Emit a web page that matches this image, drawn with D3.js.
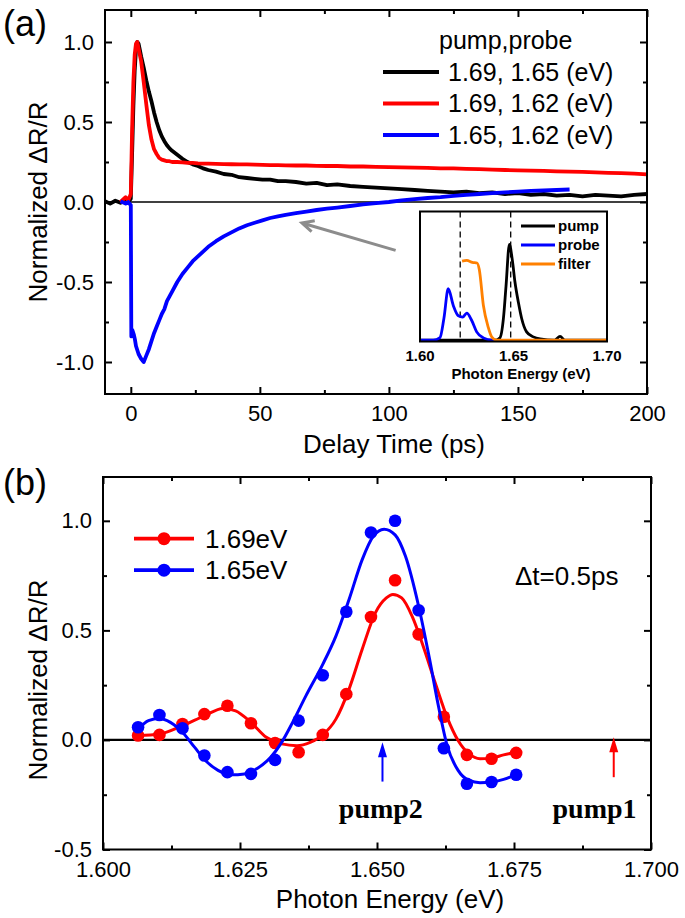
<!DOCTYPE html>
<html lang="en">
<head>
<meta charset="UTF-8">
<title>Normalized dR/R</title>
<script src="https://cdn.jsdelivr.net/npm/d3@7"></script>
<style>
    body { margin: 0; background: #ffffff; }
    svg { font-family: "Liberation Sans", Arial, sans-serif; }
    .frame { fill: none; stroke: #000; stroke-width: 2; }
    .tick line { stroke: #000; stroke-width: 2; }
</style>
</head>
<body>
<div id="main"></div>
<script>
// ---- panel (a): transient reflectivity vs delay ----
const delayTime = [-10, -8, -6, -4, -2, -1, 0, 0.5, 1, 1.5, 2, 2.5, 3, 3.5, 4, 5, 6, 7, 8, 9, 10, 11, 12, 13, 14, 15, 16, 18, 20, 22, 24, 26, 28, 30, 33, 36, 39, 42, 45, 48, 51, 54, 57, 60, 64, 68, 72, 76, 80, 85, 90, 95, 100, 105, 110, 115, 120, 125, 130, 135, 140, 145, 150, 155, 160, 165, 170, 175, 180, 185, 190, 195, 200];
const pump169probe165 = [0.005, -0.01, 0.008, -0.005, 0.01, 0.0, 0.02, 0.3, 0.6, 0.82, 0.95, 1.0, 0.99, 0.95, 0.91, 0.84, 0.76, 0.69, 0.63, 0.56, 0.5, 0.45, 0.41, 0.38, 0.355, 0.335, 0.32, 0.295, 0.27, 0.25, 0.235, 0.225, 0.21, 0.2, 0.19, 0.175, 0.17, 0.155, 0.15, 0.145, 0.14, 0.14, 0.13, 0.13, 0.125, 0.115, 0.12, 0.105, 0.11, 0.1, 0.095, 0.09, 0.085, 0.08, 0.075, 0.07, 0.065, 0.06, 0.065, 0.055, 0.06, 0.05, 0.055, 0.045, 0.05, 0.04, 0.045, 0.035, 0.045, 0.04, 0.035, 0.045, 0.05];
const pump169probe162 = [null, null, null, 0.0, 0.03, 0.01, 0.05, 0.45, 0.75, 0.92, 0.99, 1.0, 0.96, 0.92, 0.88, 0.75, 0.61, 0.48, 0.39, 0.33, 0.3, 0.275, 0.265, 0.26, 0.255, 0.255, 0.25, 0.25, 0.248, 0.245, 0.245, 0.242, 0.24, 0.24, 0.238, 0.237, 0.236, 0.235, 0.235, 0.233, 0.232, 0.23, 0.23, 0.229, 0.228, 0.228, 0.226, 0.225, 0.225, 0.222, 0.222, 0.22, 0.218, 0.216, 0.215, 0.213, 0.21, 0.21, 0.207, 0.205, 0.202, 0.2, 0.198, 0.196, 0.195, 0.192, 0.19, 0.188, 0.185, 0.182, 0.18, 0.177, 0.173];
const blueTime = [-4, -2, -1, 0, 0.2, 0.6, 1.2, 1.6, 2, 3, 4, 5, 6, 7, 8, 9, 10, 11, 12, 13, 14, 15, 16, 18, 20, 22, 24, 26, 28, 30, 33, 36, 39, 42, 45, 48, 51, 54, 57, 60, 64, 68, 72, 76, 80, 85, 90, 95, 100, 105, 110, 115, 120, 125, 130, 135, 140, 145, 150, 155, 160, 165, 170];
const pump165probe162 = [0.005, -0.01, 0.0, -0.02, -0.84, -0.8, -0.83, -0.86, -0.9, -0.95, -0.98, -1.0, -0.96, -0.92, -0.87, -0.82, -0.78, -0.74, -0.7, -0.67, -0.62, -0.59, -0.56, -0.5, -0.45, -0.41, -0.37, -0.34, -0.31, -0.28, -0.245, -0.215, -0.19, -0.165, -0.145, -0.13, -0.115, -0.1, -0.09, -0.08, -0.07, -0.06, -0.05, -0.042, -0.035, -0.025, -0.015, -0.007, 0.0, 0.01, 0.018, 0.025, 0.03, 0.038, 0.045, 0.05, 0.055, 0.06, 0.065, 0.07, 0.072, 0.075, 0.078];
const seriesA = [
    {label: '1.69, 1.65 (eV)', color: '#000000'},
    {label: '1.69, 1.62 (eV)', color: '#ff0000'},
    {label: '1.65, 1.62 (eV)', color: '#0000ff'}
];

// ---- inset: pump / probe / filter spectra ----
const pumpEnergy = [1.6, 1.64, 1.6428, 1.6446, 1.646, 1.6478, 1.6494, 1.6508, 1.6526, 1.6544, 1.657, 1.6606, 1.6642, 1.672, 1.6749, 1.6775, 1.7];
const pumpSpec = [0, 0, 0.02, 0.167, 0.42, 0.744, 0.62, 0.45, 0.295, 0.167, 0.065, 0.026, 0.01, 0.0, 0.03, 0.0, 0];
const probeEnergy = [1.6, 1.6071, 1.6107, 1.6128, 1.6151, 1.6178, 1.6205, 1.6228, 1.625, 1.6276, 1.6303, 1.6339, 1.6383, 1.64];
const probeSpec = [0, 0, 0.02, 0.17, 0.4, 0.27, 0.19, 0.18, 0.21, 0.155, 0.065, 0.018, 0, 0];
const filterEnergy = [1.6225, 1.625, 1.628, 1.6305, 1.6317, 1.6339, 1.6365, 1.6383, 1.641, 1.7];
const filterSpec = [0.615, 0.62, 0.605, 0.6, 0.55, 0.27, 0.1, 0.027, 0, 0];
const insetDashes = [1.6215, 1.6485];
const insetTicks = [1.6, 1.65, 1.7];

// ---- panel (b): spectra at dt = 0.5 ps ----
const probeE = [1.6064, 1.6103, 1.6145, 1.6185, 1.6227, 1.627, 1.6314, 1.6357, 1.6401, 1.6444, 1.6489, 1.6533, 1.6576, 1.6622, 1.6664, 1.6709, 1.6754];
const dots169 = [0.02, 0.023, 0.073, 0.118, 0.156, 0.076, -0.014, -0.056, 0.023, 0.209, 0.561, 0.729, 0.482, 0.106, -0.068, -0.086, -0.059];
const dots165 = [0.058, 0.114, 0.053, -0.071, -0.147, -0.155, -0.091, 0.088, 0.295, 0.585, 0.947, 1.0, 0.592, -0.038, -0.2, -0.192, -0.159];
const fitE169 = [1.6064, 1.6103, 1.6145, 1.6185, 1.6219, 1.6242, 1.627, 1.6298, 1.6326, 1.6354, 1.6378, 1.6401, 1.6425, 1.6449, 1.6473, 1.6497, 1.6517, 1.6529, 1.6545, 1.6564, 1.6584, 1.6608, 1.6628, 1.6648, 1.6668, 1.6688, 1.6709, 1.6731, 1.6754];
const fit169 = [0.02, 0.027, 0.065, 0.11, 0.144, 0.133, 0.08, 0.012, -0.018, -0.026, -0.011, 0.023, 0.095, 0.232, 0.414, 0.58, 0.648, 0.664, 0.648, 0.565, 0.43, 0.247, 0.103, -0.003, -0.064, -0.086, -0.083, -0.068, -0.056];
const fitE165 = [1.6064, 1.6083, 1.6103, 1.6123, 1.6145, 1.6167, 1.6187, 1.621, 1.6234, 1.6258, 1.6282, 1.6306, 1.6326, 1.6346, 1.637, 1.6401, 1.6425, 1.6449, 1.6473, 1.6493, 1.6513, 1.6533, 1.6552, 1.6576, 1.6596, 1.6612, 1.6628, 1.6648, 1.6668, 1.6688, 1.6709, 1.6731, 1.6754];
const fit165 = [0.05, 0.088, 0.098, 0.08, 0.035, -0.033, -0.094, -0.139, -0.159, -0.155, -0.129, -0.079, -0.011, 0.08, 0.2, 0.345, 0.474, 0.641, 0.823, 0.929, 0.962, 0.936, 0.838, 0.61, 0.368, 0.156, -0.026, -0.139, -0.185, -0.195, -0.192, -0.18, -0.159];
const pumpMarks = [
    {label: 'pump2', energy: 1.651, from: -0.19, to: -0.01, color: '#0000ff', textAt: 1.6507},
    {label: 'pump1', energy: 1.6932, from: -0.17, to: 0.012, color: '#ff0000', textAt: 1.6897}
];

const svg = d3.select('#main').append('svg')
    .attr('width', 685).attr('height', 918);

/* frame with inward major/minor ticks on all four sides */
function drawFrame(x, y, xMajor, xMinor, yMajor, yMinor, xFmt, yFmt, xPad) {
    const [xl, xr] = x.range();
    const [yb, yt] = y.range();
    const g = svg.append('g');
    const put = (axis, tx, ty) => {
        const a = g.append('g').attr('transform', `translate(${tx},${ty})`).call(axis);
        a.select('.domain').remove();
        a.attr('font-size', 22).attr('font-family', '"Liberation Sans", Arial, sans-serif');
        a.selectAll('text').attr('fill', '#000');
        return a;
    };
    put(d3.axisBottom(x).tickValues(xMajor).tickSize(-7).tickPadding(xPad).tickFormat(xFmt), 0, yb);
    put(d3.axisBottom(x).tickValues(xMinor).tickSize(-4).tickFormat(''), 0, yb);
    put(d3.axisTop(x).tickValues(xMajor).tickSize(-7).tickFormat(''), 0, yt);
    put(d3.axisTop(x).tickValues(xMinor).tickSize(-4).tickFormat(''), 0, yt);
    put(d3.axisLeft(y).tickValues(yMajor).tickSize(-7).tickPadding(11).tickFormat(yFmt), xl, 0);
    put(d3.axisLeft(y).tickValues(yMinor).tickSize(-4).tickFormat(''), xl, 0);
    put(d3.axisRight(y).tickValues(yMajor).tickSize(-7).tickFormat(''), xr, 0);
    put(d3.axisRight(y).tickValues(yMinor).tickSize(-4).tickFormat(''), xr, 0);
    g.append('rect').attr('class', 'frame')
        .attr('x', xl).attr('y', yt).attr('width', xr - xl).attr('height', yb - yt);
}

/* ================= (a) ================= */
const xa = d3.scaleLinear().domain([-10, 200]).range([105, 647]);
const ya = d3.scaleLinear().domain([-1.2, 1.2]).range([394, 10]);

const lineA = d3.line()
    .defined(d => d[1] != null)
    .x(d => xa(d[0])).y(d => ya(d[1]));

svg.append('line')
    .attr('x1', xa(-10)).attr('x2', xa(200))
    .attr('y1', ya(0)).attr('y2', ya(0))
    .attr('stroke', '#000').attr('stroke-width', 1.5);

const curvesA = [
    d3.zip(delayTime, pump169probe165),
    d3.zip(delayTime, pump169probe162),
    d3.zip(blueTime, pump165probe162)
];
curvesA.forEach((pts, i) => {
    svg.append('path')
        .attr('d', lineA(pts))
        .attr('fill', 'none')
        .attr('stroke', seriesA[i].color)
        .attr('stroke-width', 3.8)
        .attr('stroke-linejoin', 'round');
});

drawFrame(xa, ya, [0, 50, 100, 150, 200], [25, 75, 125, 175],
    [-1, -0.5, 0, 0.5, 1], [-0.75, -0.25, 0.25, 0.75],
    d => d3.format('d')(d), d => d.toFixed(1), 11);

// legend (a)
svg.append('text').attr('x', 439).attr('y', 40).attr('dy', '0.35em')
    .attr('font-size', 25).text('pump,probe');
seriesA.forEach((s, i) => {
    const yy = 72 + i * 31.5;
    svg.append('line').attr('x1', 383).attr('x2', 439).attr('y1', yy).attr('y2', yy)
        .attr('stroke', s.color).attr('stroke-width', 3.8);
    svg.append('text').attr('x', 448).attr('y', yy).attr('dy', '0.35em')
        .attr('font-size', 25).text(s.label);
});

// grey arrow pointing at the blue trace
const arrowTail = [102.6, -0.302], arrowTip = [66.3, -0.131];
{
    const x1 = xa(arrowTail[0]), y1 = ya(arrowTail[1]);
    const x2 = xa(arrowTip[0]), y2 = ya(arrowTip[1]);
    const ang = Math.atan2(y1 - y2, x1 - x2);
    const hl = 13, ha = 0.45;
    svg.append('path')
        .attr('d', `M${x1},${y1}L${x2},${y2}` +
            `M${x2 + hl * Math.cos(ang + ha)},${y2 + hl * Math.sin(ang + ha)}L${x2},${y2}` +
            `L${x2 + hl * Math.cos(ang - ha)},${y2 + hl * Math.sin(ang - ha)}`)
        .attr('fill', 'none').attr('stroke', '#8c8c8c').attr('stroke-width', 3);
}

// axis titles (a)
svg.append('text').attr('x', 394).attr('y', 444).attr('dy', '0.35em')
    .attr('text-anchor', 'middle').attr('font-size', 26).text('Delay Time (ps)');
svg.append('text').attr('transform', 'translate(38,202) rotate(-90)').attr('dy', '0.35em')
    .attr('text-anchor', 'middle').attr('font-size', 26).text('Normalized \u0394R/R');
svg.append('text').attr('x', 3).attr('y', 36).attr('font-size', 36).text('(a)');

/* ----- inset ----- */
const xi = d3.scaleLinear().domain([1.6, 1.7]).range([420, 607]);
const yi = d3.scaleLinear().domain([-0.01, 1]).range([341.5, 211.5]);
const inset = svg.append('g');
inset.append('rect').attr('x', 420).attr('y', 211.5).attr('width', 187).attr('height', 130)
    .attr('fill', '#fff');
const lineI = d3.line().x(d => xi(d[0])).y(d => yi(d[1])).curve(d3.curveMonotoneX);
insetDashes.forEach(e => {
    inset.append('line').attr('x1', xi(e)).attr('x2', xi(e))
        .attr('y1', 211.5).attr('y2', 341.5)
        .attr('stroke', '#000').attr('stroke-width', 1.3).attr('stroke-dasharray', '6,4');
});
const insetSeries = [
    {name: 'pump', color: '#000000', pts: d3.zip(pumpEnergy, pumpSpec)},
    {name: 'probe', color: '#0000ff', pts: d3.zip(probeEnergy, probeSpec)},
    {name: 'filter', color: '#ff8000', pts: d3.zip(filterEnergy, filterSpec)}
];
insetSeries.forEach(s => {
    inset.append('path').attr('d', lineI(s.pts)).attr('fill', 'none')
        .attr('stroke', s.color).attr('stroke-width', 2.8);
});
inset.append('rect').attr('class', 'frame')
    .attr('x', 420).attr('y', 211.5).attr('width', 187).attr('height', 130);
insetSeries.forEach((s, i) => {
    const yy = 226 + i * 19;
    inset.append('line').attr('x1', 521).attr('x2', 555).attr('y1', yy).attr('y2', yy)
        .attr('stroke', s.color).attr('stroke-width', 2.8);
    inset.append('text').attr('x', 558).attr('y', yy).attr('dy', '0.35em')
        .attr('font-size', 15).attr('font-weight', 'bold').text(s.name);
});
inset.selectAll('.itick').data(insetTicks).enter().append('text')
    .attr('x', d => xi(d)).attr('y', 356).attr('dy', '0.35em')
    .attr('text-anchor', 'middle').attr('font-size', 15).attr('font-weight', 'bold')
    .text(d => d.toFixed(2));
inset.append('text').attr('x', 521).attr('y', 374).attr('dy', '0.35em')
    .attr('text-anchor', 'middle').attr('font-size', 15).attr('font-weight', 'bold')
    .text('Photon Energy (eV)');

/* ================= (b) ================= */
const xb = d3.scaleLinear().domain([1.6, 1.7]).range([103, 651]);
const yb = d3.scaleLinear().domain([-0.5, 1.2]).range([849.5, 477]);

svg.append('line')
    .attr('x1', xb(1.6)).attr('x2', xb(1.7))
    .attr('y1', yb(0)).attr('y2', yb(0))
    .attr('stroke', '#000').attr('stroke-width', 2.2);

const lineB = d3.line().x(d => xb(d[0])).y(d => yb(d[1])).curve(d3.curveMonotoneX);
const seriesB = [
    {label: '1.69eV', color: '#ff0000', dots: dots169, fitE: fitE169, fit: fit169},
    {label: '1.65eV', color: '#0000ff', dots: dots165, fitE: fitE165, fit: fit165}
];
seriesB.forEach(s => {
    svg.append('path').attr('d', lineB(d3.zip(s.fitE, s.fit)))
        .attr('fill', 'none').attr('stroke', s.color).attr('stroke-width', 3);
    svg.append('g').selectAll('circle').data(d3.zip(probeE, s.dots)).enter()
        .append('circle')
        .attr('cx', d => xb(d[0])).attr('cy', d => yb(d[1])).attr('r', 6.3)
        .attr('fill', s.color);
});

// pump arrows
pumpMarks.forEach(p => {
    const xx = xb(p.energy);
    svg.append('line').attr('x1', xx).attr('x2', xx)
        .attr('y1', yb(p.from)).attr('y2', yb(p.to) + 12)
        .attr('stroke', p.color).attr('stroke-width', 2);
    svg.append('path')
        .attr('d', `M${xx},${yb(p.to)}L${xx - 4.5},${yb(p.to) + 15}L${xx + 4.5},${yb(p.to) + 15}Z`)
        .attr('fill', p.color);
    svg.append('text').attr('x', xb(p.textAt)).attr('y', 818)
        .attr('text-anchor', 'middle')
        .attr('font-family', '"Liberation Serif", "Times New Roman", serif')
        .attr('font-weight', 'bold').attr('font-size', 28).text(p.label);
});

drawFrame(xb, yb, [1.6, 1.625, 1.65, 1.675, 1.7], [1.6125, 1.6375, 1.6625, 1.6875],
    [-0.5, 0, 0.5, 1], [-0.25, 0.25, 0.75],
    d => d.toFixed(3), d => d.toFixed(1), 12);

// legend (b)
seriesB.forEach((s, i) => {
    const yy = 538.7 + i * 31.5;
    svg.append('line').attr('x1', 134).attr('x2', 194).attr('y1', yy).attr('y2', yy)
        .attr('stroke', s.color).attr('stroke-width', 3.8);
    svg.append('circle').attr('cx', 164).attr('cy', yy).attr('r', 6.5).attr('fill', s.color);
    svg.append('text').attr('x', 205).attr('y', yy).attr('dy', '0.35em')
        .attr('font-size', 26).text(s.label);
});
svg.append('text').attr('x', 515).attr('y', 576).attr('dy', '0.35em')
    .attr('font-size', 26).text('\u0394t=0.5ps');

// axis titles (b)
svg.append('text').attr('x', 390).attr('y', 899).attr('dy', '0.35em')
    .attr('text-anchor', 'middle').attr('font-size', 26).text('Photon Energy (eV)');
svg.append('text').attr('transform', 'translate(38,680) rotate(-90)').attr('dy', '0.35em')
    .attr('text-anchor', 'middle').attr('font-size', 26).text('Normalized \u0394R/R');
svg.append('text').attr('x', 3).attr('y', 495).attr('font-size', 36).text('(b)');
</script>
</body>
</html>
